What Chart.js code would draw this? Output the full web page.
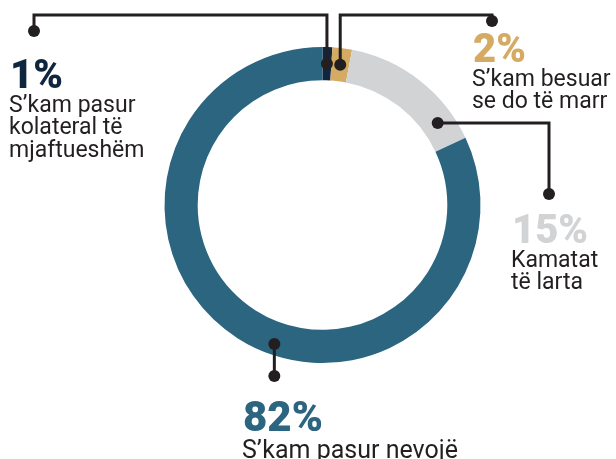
<!DOCTYPE html>
<html>
<head>
<meta charset="utf-8">
<script src="https://cdn.jsdelivr.net/npm/chart.js@4"></script>
<style>
  html, body { margin: 0; padding: 0; background: #fff; }
  #wrap { width: 616px; height: 459px; position: relative; }
</style>
</head>
<body>
<div id="wrap"><canvas id="myChart"></canvas></div>
<script>
// shares of answers, clockwise from the top
const labels = ["S’kam pasur kolateral të mjaftueshëm", "S’kam besuar se do të marr", "Kamatat të larta", "S’kam pasur nevojë"]
const values = [1, 2, 15, 82]
const pctText = ["1%", "2%", "15%", "82%"]
const labelLines = [["S’kam pasur", "kolateral të", "mjaftueshëm"], ["S’kam besuar", "se do të marr"], ["Kamatat", "të larta"], ["S’kam pasur nevojë"]]
const colors = ["#10263f", "#d5aa63", "#d2d3d5", "#2b6580"]
const pctColors = ["#10263f", "#d5aa63", "#d2d3d5", "#2b6580"]

// callout layout: where on the arc the dot sits (fraction of angle / ring), the elbow path, and the text block
const callouts = [
    { f: 0.5, g: 0.5, path: [[null, 15], [34, 15], [34, 31]], tx: 10, ty: 88, pSize: 40, lSize: 23, lh: 22.5 },
    { f: 0.5, g: 0.5, path: [[null, 15], [492, 15], [492, 21]], tx: 473, ty: 62, pSize: 40, lSize: 23, lh: 22.5 },
    { f: 0.81, g: 0.5, path: [[549, null], [549, 194]], tx: 512, ty: 243, pSize: 40, lSize: 23, lh: 22.5 },
    { f: 0.455, g: 0.67, path: [[null, 376]], tx: 243, ty: 431, pSize: 42, lSize: 25, lh: 26 },
]

const calloutPlugin = {
    id: 'callouts',
    afterDraw(chart) {
        const ctx = chart.ctx;
        const arcs = chart.getDatasetMeta(0).data;
        ctx.save();
        arcs.forEach((arc, i) => {
            const c = callouts[i];
            const p = arc.getProps(['x', 'y', 'startAngle', 'endAngle', 'innerRadius', 'outerRadius'], true);
            const a = p.startAngle + c.f * (p.endAngle - p.startAngle);
            const r = p.innerRadius + c.g * (p.outerRadius - p.innerRadius);
            const ax = p.x + r * Math.cos(a);
            const ay = p.y + r * Math.sin(a);
            // line
            ctx.strokeStyle = "#231f20";
            ctx.lineWidth = 3;
            ctx.beginPath();
            ctx.moveTo(ax, ay);
            let cx = ax, cy = ay;
            c.path.forEach(pt => {
                cx = pt[0] === null ? cx : pt[0];
                cy = pt[1] === null ? cy : pt[1];
                ctx.lineTo(cx, cy);
            });
            ctx.stroke();
            ctx.fillStyle = "#231f20";
            [[ax, ay], [cx, cy]].forEach(d => {
                ctx.beginPath();
                ctx.arc(d[0], d[1], 6, 0, Math.PI * 2);
                ctx.fill();
            });
            // text
            ctx.textBaseline = 'alphabetic';
            ctx.textAlign = 'left';
            ctx.fillStyle = pctColors[i];
            ctx.font = "900 " + c.pSize + "px Roboto";
            ctx.fillText(pctText[i], c.tx, c.ty);
            ctx.fillStyle = "#231f20";
            ctx.font = "400 " + c.lSize + "px Roboto";
            labelLines[i].forEach((line, k) => {
                ctx.fillText(line, c.tx - 1, c.ty + c.lh + 1 + k * c.lh);
            });
        });
        ctx.restore();
    }
};

const ctx = document.getElementById('myChart');
new Chart(ctx, {
    type: 'doughnut',
    data: {
        labels: labels,
        datasets: [{
            data: values,
            backgroundColor: colors,
            borderWidth: 0,
        }]
    },
    options: {
        responsive: true,
        maintainAspectRatio: false,
        animation: false,
        rotation: 0,
        cutout: '79%',
        layout: {
            padding: { left: 164, right: 135, top: 47, bottom: 96 }
        },
        plugins: {
            legend: { display: false },
            tooltip: { enabled: false }
        }
    },
    plugins: [calloutPlugin]
});
</script>
</body>
</html>
